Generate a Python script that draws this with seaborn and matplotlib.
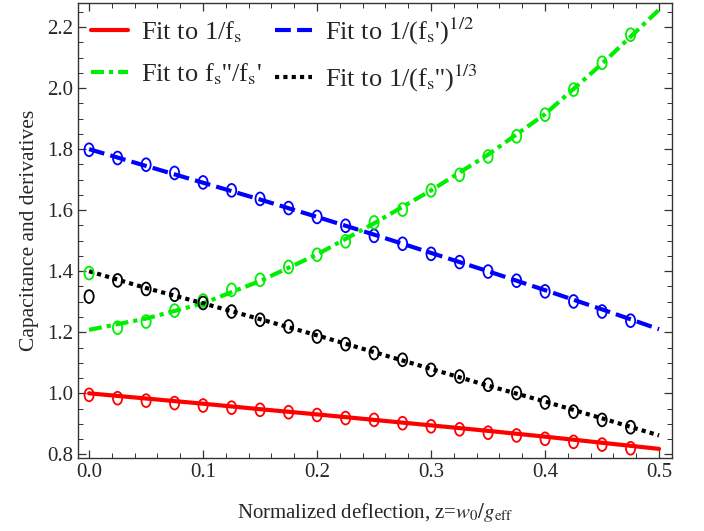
import numpy as np
import matplotlib
matplotlib.use("Agg")
import matplotlib.pyplot as plt
import seaborn as sns
import pandas as pd
from matplotlib.path import Path
from matplotlib.transforms import Affine2D
from matplotlib.lines import Line2D

# measured points (x = 0 .. 0.475 step 0.025)
z_pts = [0.0, 0.025, 0.05, 0.075, 0.1, 0.125, 0.15, 0.175, 0.2, 0.225,
         0.25, 0.275, 0.3, 0.325, 0.35, 0.375, 0.4, 0.425, 0.45, 0.475]
red_pts = [0.995, 0.984, 0.976, 0.968, 0.960, 0.953, 0.946, 0.938, 0.929, 0.919,
           0.913, 0.902, 0.892, 0.882, 0.871, 0.862, 0.851, 0.841, 0.832, 0.820]
blue_pts = [1.798, 1.771, 1.749, 1.722, 1.691, 1.665, 1.637, 1.607, 1.578, 1.549,
            1.516, 1.490, 1.457, 1.430, 1.399, 1.369, 1.334, 1.301, 1.268, 1.238]
green_pts = [1.394, 1.215, 1.235, 1.271, 1.304, 1.339, 1.372, 1.414, 1.454, 1.498,
             1.560, 1.602, 1.665, 1.716, 1.776, 1.842, 1.913, 1.995, 2.083, 2.175]
black_pts = [1.317, 1.370, 1.342, 1.323, 1.296, 1.268, 1.241, 1.219, 1.186, 1.161,
             1.132, 1.110, 1.077, 1.055, 1.028, 1.001, 0.970, 0.940, 0.913, 0.889]

# fitted curves read at z = 0 .. 0.5 step 0.05
z_fit = [0.0, 0.05, 0.1, 0.15, 0.2, 0.25, 0.3, 0.35, 0.4, 0.45, 0.5]
red_fit = [1.000, 0.983, 0.966, 0.948, 0.931, 0.913, 0.895, 0.877, 0.858, 0.838, 0.818]
blue_fit = [1.800, 1.745, 1.690, 1.635, 1.578, 1.520, 1.460, 1.400, 1.338, 1.275, 1.210]
green_fit = [1.208, 1.245, 1.295, 1.368, 1.455, 1.557, 1.665, 1.782, 1.915, 2.080, 2.257]
black_fit = [1.400, 1.345, 1.295, 1.243, 1.190, 1.135, 1.080, 1.025, 0.973, 0.918, 0.862]

labels = [r"Fit to 1/f$_\mathrm{s}$",
          r"Fit to 1/(f$_\mathrm{s}$')$^{1/2}$",
          r"Fit to f$_\mathrm{s}$''/f$_\mathrm{s}$'",
          r"Fit to 1/(f$_\mathrm{s}$'')$^{1/3}$"]

sns.set_style("ticks")
plt.rcParams['font.family'] = ['Liberation Serif', 'DejaVu Serif']
plt.rcParams['mathtext.fontset'] = 'stix'

fig = plt.figure(figsize=(7.04, 5.31), dpi=100)
ax = fig.add_axes([0.111, 0.138, 0.843, 0.857])

oval = Path.unit_circle().transformed(Affine2D().scale(0.72, 1.0))

series = [
    (red_fit, red_pts, "#ff0000", (None, None)),
    (blue_fit, blue_pts, "#0000ff", (3.8, 1.5)),
    (green_fit, green_pts, "#00ee00", (3.1, 1.2, 1.0, 1.2)),
    (black_fit, black_pts, "#000000", (1.0, 1.0)),
]

handles = []
for (fit, pts, col, dash), lab in zip(series, labels):
    fit_df = pd.DataFrame({"z": z_fit, "v": fit})
    sns.lineplot(data=fit_df, x="z", y="v", color=col, lw=3, ax=ax)
    ln = ax.lines[-1]
    if dash[0] is not None:
        ln.set_dashes(dash)
    ln.set_dash_capstyle("butt")
    pt_df = pd.DataFrame({"z": z_pts, "v": pts})
    sns.scatterplot(data=pt_df, x="z", y="v", marker=oval, s=85,
                    facecolor="none", edgecolor=col, linewidth=1.3, ax=ax, zorder=3)
    h = Line2D([], [], color=col, lw=3)
    if dash[0] is not None:
        h.set_dashes(dash)
    handles.append(h)

ax.set_xlim(-0.0096, 0.511)
ax.set_ylim(0.789, 2.28)
ax.set_xticks(np.arange(0, 0.51, 0.1))
ax.set_xticks(np.arange(0, 0.51, 0.02), minor=True)
ax.set_yticks(np.arange(0.8, 2.21, 0.2))
ax.set_yticks(np.arange(0.8, 2.26, 0.05), minor=True)
ax.xaxis.set_major_formatter(matplotlib.ticker.FormatStrFormatter('%.1f'))
ax.yaxis.set_major_formatter(matplotlib.ticker.FormatStrFormatter('%.1f'))
ax.tick_params(which='both', direction='in', top=True, right=True, labelsize=15, color='#333333')
ax.tick_params(which='major', length=6, width=0.9)
ax.tick_params(which='minor', length=3.5, width=0.7)
for sp in ax.spines.values():
    sp.set_color('#333333')
    sp.set_linewidth(1.0)

ax.set_xlabel(r"Normalized deflection, z=$w_0/g_{\mathrm{eff}}$", fontsize=15, labelpad=14)
ax.set_ylabel("Capacitance and derivatives", fontsize=15.5, labelpad=6)

order = [0, 2, 1, 3]
ax.legend([handles[i] for i in order], [labels[i] for i in order], ncol=2,
          loc='upper left', bbox_to_anchor=(0.0, 1.0), frameon=False, fontsize=19,
          handlelength=1.4, handletextpad=0.5, columnspacing=0.5, labelspacing=0.6,
          borderaxespad=0.2, borderpad=0.3)

fig.savefig("out.png", dpi=100)
